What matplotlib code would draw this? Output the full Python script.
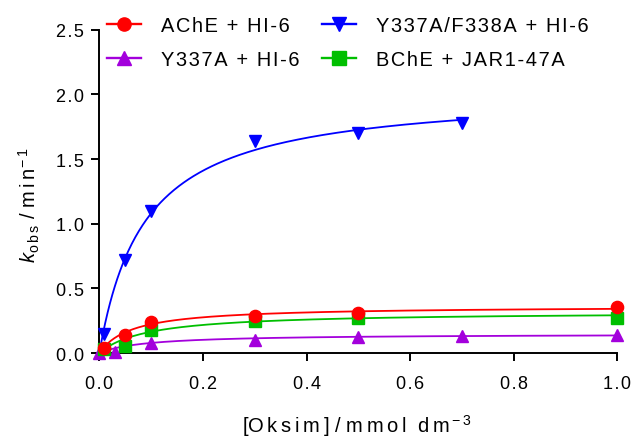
"""Observed reactivation rate vs oxime concentration (hyperbolic fits)."""

import numpy as np
import matplotlib

matplotlib.use("Agg")
import matplotlib.pyplot as plt
from matplotlib.ticker import FuncFormatter

# measured points
ache_x = [0.01, 0.05, 0.1, 0.3, 0.5, 1.0]
ache_y = [0.04, 0.14, 0.24, 0.29, 0.31, 0.355]

mut2_x = [0.01, 0.05, 0.1, 0.3, 0.5, 0.7]
mut2_y = [0.15, 0.72, 1.10, 1.64, 1.70, 1.78]

mut1_x = [0.0, 0.03, 0.1, 0.3, 0.5, 0.7, 1.0]
mut1_y = [0.0, 0.01, 0.077, 0.103, 0.12, 0.128, 0.141]

bche_x = [0.01, 0.05, 0.1, 0.3, 0.5, 1.0]
bche_y = [0.03, 0.055, 0.18, 0.25, 0.27, 0.27]

# fitted hyperbola parameters (kmax, K)
ache_fit = (0.363, 0.063)
mut2_fit = (2.03, 0.088)
mut1_fit = (0.148, 0.09)
bche_fit = (0.319, 0.094)

labels = ["AChE + HI-6", "Y337A + HI-6", "Y337A/F338A + HI-6", "BChE + JAR1-47A"]
colors = ["#ff0000", "#a300dc", "#0000ff", "#00bf00"]

plt.rcParams["font.family"] = ["Liberation Sans", "DejaVu Sans"]
plt.rcParams["mathtext.fontset"] = "custom"
plt.rcParams["mathtext.rm"] = "Liberation Sans"
plt.rcParams["mathtext.it"] = "Liberation Sans:italic"

HAIR = "\u200a"


def spaced(text):
    # GraphPad-like loose tracking
    return HAIR.join(text)


def hyperbola(x, fit):
    kmax, km = fit
    return kmax * x / (km + x)


fig = plt.figure(figsize=(6.33, 4.39), dpi=100)
ax = fig.add_axes([0.1569, 0.1936, 0.8183, 0.7364])

series = [
    (ache_x, ache_y, ache_fit, "o", 1.0),
    (mut1_x, mut1_y, mut1_fit, "^", 1.0),
    (mut2_x, mut2_y, mut2_fit, "v", 0.7),
    (bche_x, bche_y, bche_fit, "s", 1.0),
]
z_order = [6, 3, 4, 5]
ms = 8.8

handles = []
for (xs, ys, fit, marker, xmax), color, z in zip(series, colors, z_order):
    xx = np.linspace(0.002, xmax, 300)
    ax.plot(xx, hyperbola(xx, fit), color=color, lw=1.3, zorder=z)
    ax.plot(xs, ys, ls="none", marker=marker, ms=ms, color=color, zorder=z + 0.5, clip_on=False)
    (h,) = ax.plot([], [], color=color, lw=1.7, marker=marker, ms=ms * 1.08)
    handles.append(h)

ax.set_xlim(0, 1.0)
ax.set_ylim(0, 2.5)
ax.set_xticks([0.0, 0.2, 0.4, 0.6, 0.8, 1.0])
ax.set_yticks([0.0, 0.5, 1.0, 1.5, 2.0, 2.5])
ax.xaxis.set_major_formatter(FuncFormatter(lambda v, p: spaced(f"{v:.1f}")))
ax.yaxis.set_major_formatter(FuncFormatter(lambda v, p: spaced(f"{v:.1f}")))

for side in ["top", "right"]:
    ax.spines[side].set_visible(False)
for side in ["left", "bottom"]:
    ax.spines[side].set_linewidth(1.4)
ax.tick_params(direction="out", length=6, width=1.4, labelsize=13)
ax.tick_params(axis="x", pad=10)
ax.tick_params(axis="y", pad=5)

fig.text(
    357 / 633, 1 - 426 / 439,
    r"$\rm [O\:k\:s\:i\:m\:]\ /\ m\:m\:o\:l\ \ d\:m^{\:-\:3}$",
    fontsize=14.5, ha="center", va="center",
)
fig.text(
    29 / 633, 1 - 205 / 439,
    r"$k_{\rm o\:b\:s}\ \rm /\ m\:i\:n^{-\:1}$",
    fontsize=14.5, ha="center", va="center", rotation=90,
)

ax.legend(
    handles,
    [spaced(lab) for lab in labels],
    ncol=2,
    frameon=False,
    fontsize=14.4,
    loc="upper left",
    bbox_to_anchor=(97 / 633, 1 - 7 / 439),
    bbox_transform=fig.transFigure,
    handlelength=1.7,
    handletextpad=1.0,
    columnspacing=1.1,
    labelspacing=0.75,
    borderpad=0,
)

fig.savefig("out.png", dpi=100)
